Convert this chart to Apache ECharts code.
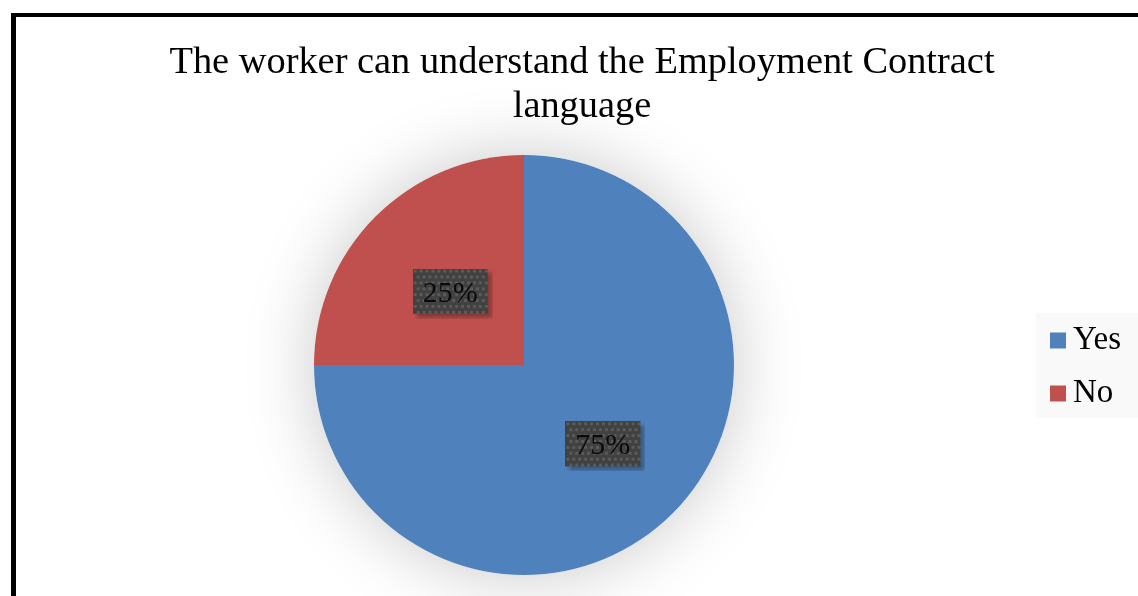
<!DOCTYPE html>
<html>
<head>
<meta charset="utf-8">
<script src="https://cdn.jsdelivr.net/npm/echarts@6/dist/echarts.min.js"></script>
<style>
  html, body { margin: 0; padding: 0; background: #fff; overflow: hidden; }
  #chart { position: absolute; left: 0; top: 0; width: 1138px; height: 596px; }
  #frame { position: absolute; left: 11px; top: 13px; width: 3000px; height: 3000px;
           border-left: 5px solid #000; border-top: 4px solid #000; pointer-events: none; }
</style>
</head>
<body>
<div id="chart"></div>
<div id="frame"></div>
<script>
// Survey answers
const titleText = 'The worker can understand the Employment Contract\nlanguage';
const categories = ['Yes', 'No'];
const shares = [75, 25];          // percent of respondents
const sliceColors = ['#4f81bd', '#c0504d'];

// Dotted dark plate with a drop shadow, used behind the slice labels.
// The plate fills the top-left part; the shadow sits in the extra margin.
function dottedPlate(w, h, off) {
  const c = document.createElement('canvas');
  c.width = w + off; c.height = h + off;
  const g = c.getContext('2d');
  g.save();
  g.shadowColor = 'rgba(0,0,0,0.3)';
  g.shadowBlur = 4;
  g.shadowOffsetX = off - 1;
  g.shadowOffsetY = off - 1;
  g.fillStyle = '#414141';
  g.fillRect(0, 0, w, h);
  g.restore();
  g.fillStyle = '#5b5b5b';
  for (let y = 1, row = 0; y < h - 1; y += 6, row++) {
    for (let x = (row % 2 ? 4 : 1); x < w - 1; x += 6) {
      g.fillRect(x, y, 3, 3);
    }
  }
  return c;
}
const labelPlate = dottedPlate(76, 46, 5);

const total = shares.reduce((a, b) => a + b, 0);
const chart = echarts.init(document.getElementById('chart'), null, { renderer: 'canvas' });

chart.setOption({
  backgroundColor: '#fff',
  animation: false,
  title: {
    text: titleText,
    left: 577,
    top: 36,
    textAlign: 'center',
    textStyle: {
      fontFamily: 'Liberation Serif',
      fontSize: 38.4,
      fontWeight: 'normal',
      lineHeight: 44,
      color: '#000'
    }
  },
  legend: {
    data: categories,
    orient: 'vertical',
    left: 1036,
    top: 313,
    backgroundColor: '#f9f9f9',
    padding: [11, 40, 8, 14],
    itemWidth: 16,
    itemHeight: 16,
    itemGap: 20,
    icon: 'rect',
    textStyle: {
      fontFamily: 'Liberation Serif',
      fontSize: 33,
      lineHeight: 31,
      color: '#000',
      padding: [0, 0, 0, 2]
    }
  },
  series: [
    {
      // soft halo behind the pie
      type: 'pie',
      name: 'halo',
      silent: true,
      z: 1,
      center: [524, 365],
      radius: 210,
      label: { show: false },
      labelLine: { show: false },
      itemStyle: {
        color: '#fff',
        shadowBlur: 70,
        shadowColor: 'rgba(0,0,0,0.22)'
      },
      data: [{ name: '', value: total }]
    },
    {
      type: 'pie',
      name: 'answers',
      z: 2,
      center: [524, 365],
      radius: 210,
      startAngle: 90,
      clockwise: true,
      itemStyle: { borderWidth: 0 },
      label: {
        show: true,
        position: 'inside',
        formatter: p => p.value + '%',
        fontFamily: 'Liberation Serif',
        fontSize: 30,
        lineHeight: 31,
        color: '#0a0a0a',
        backgroundColor: { image: labelPlate },
        padding: [7, 15, 12, 10]
      },
      labelLayout: { dx: 5, dy: 5 },
      labelLine: { show: false },
      emphasis: { disabled: true },
      data: categories.map((c, i) => ({
        name: c,
        value: shares[i],
        itemStyle: { color: sliceColors[i] }
      }))
    }
  ]
});
</script>
</body>
</html>
